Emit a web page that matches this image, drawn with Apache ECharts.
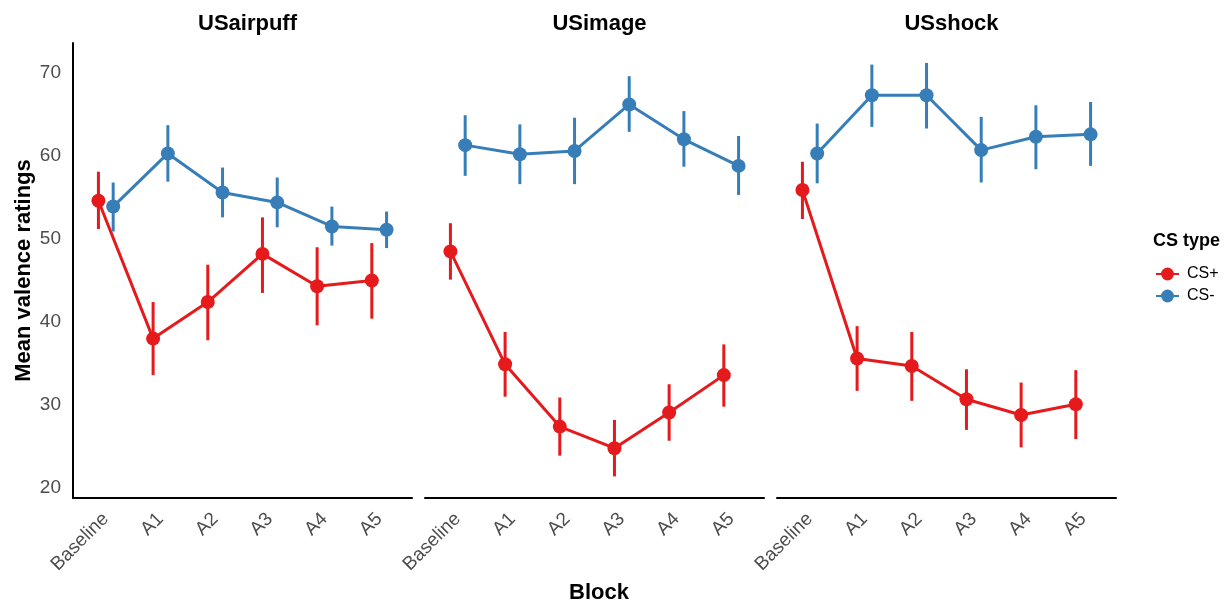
<!DOCTYPE html>
<html>
<head>
<meta charset="utf-8">
<script src="https://cdn.jsdelivr.net/npm/echarts@6/dist/echarts.min.js"></script>
<style>
  html, body { margin: 0; padding: 0; background: #ffffff; }
  #chart { width: 1232px; height: 604px; }
</style>
</head>
<body>
<div id="chart"></div>
<script>
// ---- data ----
const blocks = ['Baseline', 'A1', 'A2', 'A3', 'A4', 'A5'];
const panelNames = ['USairpuff', 'USimage', 'USshock'];
const yTicks = [20, 30, 40, 50, 60, 70];

const airpuffPlusMean  = [54.6, 38.0, 42.4, 48.2, 44.3, 45.0];
const airpuffPlusLow   = [51.2, 33.6, 37.8, 43.5, 39.6, 40.4];
const airpuffPlusHigh  = [58.1, 42.4, 46.9, 52.6, 49.0, 49.5];
const airpuffMinusMean = [53.9, 60.3, 55.6, 54.4, 51.5, 51.1];
const airpuffMinusLow  = [50.9, 56.9, 52.6, 51.4, 49.2, 48.9];
const airpuffMinusHigh = [56.8, 63.7, 58.6, 57.4, 53.9, 53.3];

const imagePlusMean  = [48.5, 34.9, 27.4, 24.8, 29.1, 33.6];
const imagePlusLow   = [45.1, 31.0, 23.9, 21.4, 25.7, 29.8];
const imagePlusHigh  = [51.9, 38.8, 30.9, 28.2, 32.5, 37.3];
const imageMinusMean = [61.3, 60.2, 60.6, 66.2, 62.0, 58.8];
const imageMinusLow  = [57.6, 56.6, 56.6, 62.9, 58.7, 55.3];
const imageMinusHigh = [64.9, 63.8, 64.6, 69.6, 65.4, 62.4];

const shockPlusMean  = [55.9, 35.6, 34.7, 30.7, 28.8, 30.1];
const shockPlusLow   = [52.4, 31.7, 30.5, 27.0, 24.9, 25.9];
const shockPlusHigh  = [59.3, 39.5, 38.8, 34.3, 32.7, 34.2];
const shockMinusMean = [60.3, 67.3, 67.3, 60.7, 62.3, 62.6];
const shockMinusLow  = [56.7, 63.5, 63.3, 56.8, 58.4, 58.8];
const shockMinusHigh = [63.9, 71.0, 71.2, 64.7, 66.1, 66.5];

const panelData = [
  { plus: [airpuffPlusMean, airpuffPlusLow, airpuffPlusHigh], minus: [airpuffMinusMean, airpuffMinusLow, airpuffMinusHigh] },
  { plus: [imagePlusMean, imagePlusLow, imagePlusHigh], minus: [imageMinusMean, imageMinusLow, imageMinusHigh] },
  { plus: [shockPlusMean, shockPlusLow, shockPlusHigh], minus: [shockMinusMean, shockMinusLow, shockMinusHigh] }
];

// ---- style ----
const RED = '#E41A1C';
const BLUE = '#377EB8';
const FONT = 'Liberation Sans, Arial, sans-serif';
const GREY = '#4D4D4D';
const DODGE = 0.135;
const gridLefts = [73, 425, 777];
const gridWidth = 339;

const grids = [], xAxes = [], yAxes = [], series = [], titles = [];

function errRender(color) {
  return function (params, api) {
    const x = api.value(0);
    const p1 = api.coord([x, api.value(1)]);
    const p2 = api.coord([x, api.value(2)]);
    return {
      type: 'line',
      shape: { x1: p1[0], y1: p1[1], x2: p2[0], y2: p2[1] },
      style: { stroke: color, lineWidth: 3 }
    };
  };
}

panelNames.forEach((name, p) => {
  grids.push({ left: gridLefts[p], width: gridWidth, top: 43, height: 455 });
  xAxes.push({
    gridIndex: p, type: 'value', min: -0.6, max: 5.6,
    axisLine: { show: true, onZero: false, lineStyle: { color: '#000', width: 2 } },
    axisTick: { show: false },
    splitLine: { show: false },
    axisLabel: {
      customValues: blocks.map((b, i) => i),
      formatter: v => blocks[Math.round(v)],
      rotate: 45, color: GREY, fontFamily: FONT, fontSize: 19, margin: 18
    }
  });
  yAxes.push({
    gridIndex: p, type: 'value', min: 18.8, max: 73.6,
    show: p === 0,
    axisLine: { show: true, onZero: false, lineStyle: { color: '#000', width: 2 } },
    axisTick: { show: false },
    splitLine: { show: false },
    axisLabel: { customValues: yTicks, color: GREY, fontFamily: FONT, fontSize: 19, margin: 12 },
    name: p === 0 ? 'Mean valence ratings' : '',
    nameLocation: 'middle', nameGap: 38,
    nameTextStyle: { color: '#000', fontFamily: FONT, fontSize: 22, fontWeight: 'bold' }
  });
  titles.push({
    text: name, left: gridLefts[p] + gridWidth / 2, top: 8, textAlign: 'center',
    textStyle: { color: '#000', fontFamily: FONT, fontSize: 22, fontWeight: 'bold' }
  });

  const groups = [
    { key: 'plus', label: 'CS+', color: RED, off: -DODGE },
    { key: 'minus', label: 'CS-', color: BLUE, off: DODGE }
  ];
  groups.forEach(g => {
    const [mean, low, high] = panelData[p][g.key];
    series.push({
      type: 'custom', name: g.label + ' error', xAxisIndex: p, yAxisIndex: p,
      renderItem: errRender(g.color),
      data: mean.map((m, i) => [i + g.off, low[i], high[i]]),
      encode: { x: 0, y: [1, 2] }, z: 2
    });
    series.push({
      type: 'line', name: g.label, xAxisIndex: p, yAxisIndex: p,
      data: mean.map((m, i) => [i + g.off, m]),
      symbol: 'circle', symbolSize: 14,
      itemStyle: { color: g.color },
      lineStyle: { color: g.color, width: 3 },
      z: 3
    });
  });
});

titles.push({
  text: 'Block', left: 594, top: 577, textAlign: 'center',
  textStyle: { color: '#000', fontFamily: FONT, fontSize: 22, fontWeight: 'bold' }
});
titles.push({
  text: 'CS type', left: 1148, top: 227,
  textStyle: { color: '#000', fontFamily: FONT, fontSize: 18, fontWeight: 'bold' }
});

const chart = echarts.init(document.getElementById('chart'));
chart.setOption({
  animation: false,
  backgroundColor: '#fff',
  title: titles,
  grid: grids,
  xAxis: xAxes,
  yAxis: yAxes,
  legend: {
    data: ['CS+', 'CS-'],
    orient: 'vertical', left: 1150, top: 261,
    itemWidth: 23, itemHeight: 16, itemGap: 6,
    selectedMode: false,
    textStyle: { color: '#000', fontFamily: FONT, fontSize: 16, padding: [0, 0, 0, 3] }
  },
  series: series
});
</script>
</body>
</html>
